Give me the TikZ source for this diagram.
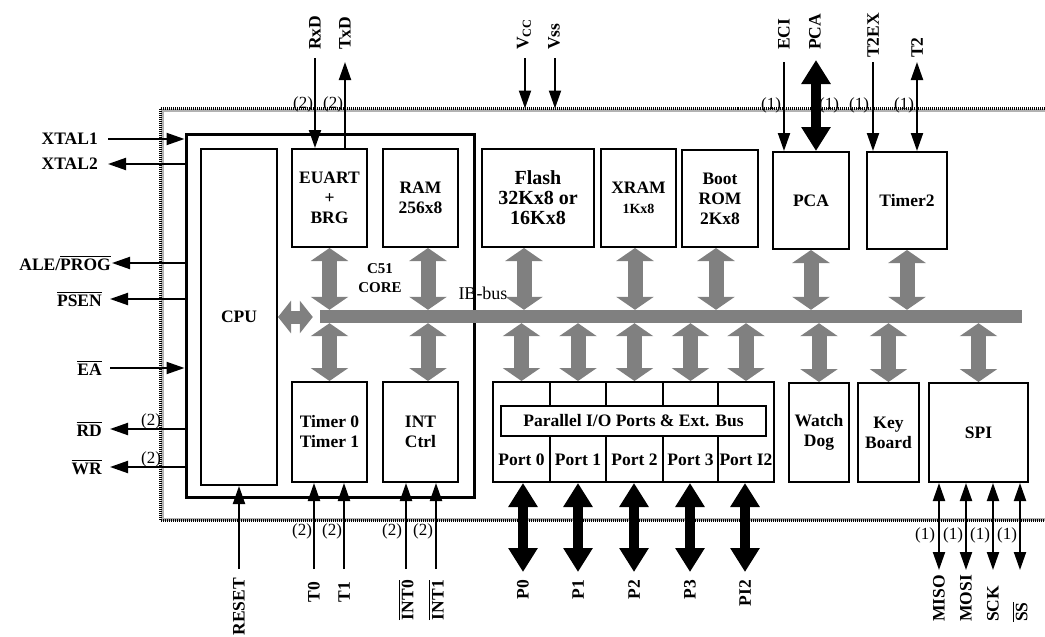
\documentclass[tikz,border=0pt]{standalone}
\usepackage{amsmath}
\usepackage{fontspec}
\setmainfont{Liberation Serif}
\usetikzlibrary{arrows.meta}

\begin{document}
\begin{tikzpicture}[
    x=1pt, y=-1pt,
    box/.style={draw, line width=2pt, inner sep=0pt, align=center, font=\fontsize{17.5}{20}\selectfont\bfseries},
    sigin/.style={-{Triangle[length=18pt, width=12pt]}, line width=2pt},
    sigio/.style={{Triangle[length=18pt, width=12pt]}-{Triangle[length=18pt, width=12pt]}, line width=2pt},
    portio/.style={{Triangle[length=24pt, width=28pt]}-{Triangle[length=24pt, width=28pt]}, line width=10pt},
    busio/.style={{Triangle[length=13pt, width=37pt]}-{Triangle[length=13pt, width=37pt]}, line width=15pt, draw=gray},
    pinlbl/.style={inner sep=0pt, font=\fontsize{17.5}{20}\selectfont\bfseries},
    note/.style={inner sep=0pt, font=\fontsize{17}{18}\selectfont}
]
\path[use as bounding box, clip] (0,0) rectangle (1045,637);

% Chip boundary
\node[draw=gray!60, line width=3pt, minimum width=918pt, minimum height=409pt] (chip) at (621,314.5) {};
\draw[line width=3pt, dash pattern=on 1pt off 1pt] (chip.north west) rectangle (chip.south east);

% C51 core
\node[box, line width=3pt, minimum width=288pt, minimum height=363pt] (core) at (330,315.5) {};
\node[box, minimum width=76pt, minimum height=336pt] (cpu) at (239,317) {CPU};
\node[box, minimum width=75pt, minimum height=98pt] (euart) at (329.5,198) {EUART\\+\\BRG};
\node[box, minimum width=75pt, minimum height=98pt] (ram) at (420.5,198) {RAM\\256x8};
\node[box, minimum width=75pt, minimum height=100pt] (timer01) at (329.5,432) {Timer 0\\Timer 1};
\node[box, minimum width=75pt, minimum height=100pt] (intc) at (420.5,432) {INT\\Ctrl};
\node[pinlbl, font=\fontsize{15}{19}\selectfont\bfseries, align=center] (corelbl) at (380,278) {C51\\CORE};

% Memories
\node[box, minimum width=112pt, minimum height=98pt, font=\fontsize{20}{20}\selectfont\bfseries] (flash) at (538,198) {Flash\\32Kx8 or\\16Kx8};
\node[box, minimum width=75pt, minimum height=98pt] (xram) at (638.5,198) {XRAM\\{\fontsize{14}{16}\selectfont 1Kx8}};
\node[box, minimum width=76pt, minimum height=97pt] (boot) at (720,198.5) {Boot\\ROM\\2Kx8};

% Peripherals
\node[box, minimum width=76pt, minimum height=97pt] (pca) at (811,200.5) {PCA};
\node[box, minimum width=80pt, minimum height=97pt] (timer2) at (907,200.5) {Timer2};
\node[box, minimum width=60pt, minimum height=99pt] (wdog) at (819,432.5) {Watch\\Dog};
\node[box, minimum width=61pt, minimum height=99pt] (kbd) at (888.5,432.5) {Key\\Board};
\node[box, minimum width=99pt, minimum height=99pt] (spi) at (978.5,432.5) {SPI};

% Parallel ports
\node[box, minimum width=57pt, minimum height=100pt] (port0) at (521.5,432) {};
\node[box, minimum width=56pt, minimum height=100pt] (port1) at (578,432) {};
\node[box, minimum width=57pt, minimum height=100pt] (port2) at (634.5,432) {};
\node[box, minimum width=55pt, minimum height=100pt] (port3) at (690.5,432) {};
\node[box, minimum width=56pt, minimum height=100pt] (portI2) at (746,432) {};
\node[pinlbl] (port0lbl) at (521.5,460) {Port 0};
\node[pinlbl] (port1lbl) at (578,460) {Port 1};
\node[pinlbl] (port2lbl) at (634.5,460) {Port 2};
\node[pinlbl] (port3lbl) at (690.5,460) {Port 3};
\node[pinlbl] (portI2lbl) at (746,460) {Port I2};
\node[box, fill=white, minimum width=265pt, minimum height=30pt] (pio) at (633.5,421) {Parallel I/O Ports \& Ext. Bus};

% IB-bus
\node[fill=gray, inner sep=0pt, minimum width=702pt, minimum height=13pt] (bus) at (671,316.5) {};
\node[note, font=\fontsize{18}{18}\selectfont] (buslbl) at (483,293) {IB-bus};

\draw[busio] (euart.south) -- (euart.south |- bus.north);
\draw[busio] ([xshift=7.5pt]ram.south) -- ([xshift=7.5pt]ram.south |- bus.north);
\draw[busio] ([xshift=-14pt]flash.south) -- ([xshift=-14pt]flash.south |- bus.north);
\draw[busio] ([xshift=-3.5pt]xram.south) -- ([xshift=-3.5pt]xram.south |- bus.north);
\draw[busio] ([xshift=-4pt]boot.south) -- ([xshift=-4pt]boot.south |- bus.north);
\draw[busio] (pca.south) -- (pca.south |- bus.north);
\draw[busio] (timer2.south) -- (timer2.south |- bus.north);
\draw[busio] (timer01.north |- bus.south) -- (timer01.north);
\draw[busio] ([xshift=7.5pt]intc.north |- bus.south) -- ([xshift=7.5pt]intc.north);
\draw[busio] (port0.north |- bus.south) -- (port0.north);
\draw[busio] (port1.north |- bus.south) -- (port1.north);
\draw[busio] (port2.north |- bus.south) -- (port2.north);
\draw[busio] (port3.north |- bus.south) -- (port3.north);
\draw[busio] (portI2.north |- bus.south) -- (portI2.north);
\draw[busio] (wdog.north |- bus.south) -- (wdog.north);
\draw[busio] (kbd.north |- bus.south) -- (kbd.north);
\draw[busio] (spi.north |- bus.south) -- (spi.north);
\draw[busio, line width=13pt, {Triangle[length=13pt, width=32pt]}-{Triangle[length=13pt, width=32pt]}] (cpu.east) -- ([xshift=-7pt]bus.west |- cpu.east);

% Left pins
\coordinate (xtal1) at (108,139);
\coordinate (xtal2) at (108,164);
\coordinate (ale) at (112,263);
\coordinate (psen) at (110,299);
\coordinate (ea) at (110,368);
\coordinate (rd) at (110,429);
\coordinate (wr) at (110,467);
\node[pinlbl, anchor=east] (xtal1lbl) at (98,139) {XTAL1};
\node[pinlbl, anchor=east] (xtal2lbl) at (98,164) {XTAL2};
\node[pinlbl, anchor=east] (alelbl) at (111,263) {ALE/$\overline{\text{PROG}}$};
\node[pinlbl, anchor=east] (psenlbl) at (102,299) {$\overline{\text{PSEN}}$};
\node[pinlbl, anchor=east] (ealbl) at (102,368) {$\overline{\text{EA}}$};
\node[pinlbl, anchor=east] (rdlbl) at (102,429) {$\overline{\text{RD}}$};
\node[pinlbl, anchor=east] (wrlbl) at (102,467) {$\overline{\text{WR}}$};
\draw[sigin] (xtal1) -- (xtal1 -| core.west);
\draw[sigin] (xtal2 -| core.west) -- (xtal2);
\draw[sigin] (ale -| core.west) -- (ale);
\draw[sigin] (psen -| core.west) -- (psen);
\draw[sigin] (ea) -- (ea -| core.west);
\draw[sigin] (rd -| core.west) -- (rd);
\draw[sigin] (wr -| core.west) -- (wr);
\node[note] (rdnum) at (151,421) {(2)};
\node[note] (wrnum) at (151,459) {(2)};

% Top pins
\coordinate (rxd) at (315,58);
\coordinate (txd) at (345,62);
\coordinate (vcc) at (525,58);
\coordinate (vss) at (555,58);
\coordinate (eci) at (784,62);
\coordinate (pcaio) at (816,60);
\coordinate (t2ex) at (873,62);
\coordinate (t2) at (917,62);
\node[pinlbl, rotate=90, anchor=west] (rxdlbl) at (315,50) {RxD};
\node[pinlbl, rotate=90, anchor=west] (txdlbl) at (345,50) {TxD};
\node[pinlbl, rotate=90, anchor=west] (vcclbl) at (524,50) {V$_{\text{CC}}$};
\node[pinlbl, rotate=90, anchor=west] (vsslbl) at (554,50) {Vss};
\node[pinlbl, rotate=90, anchor=west] (ecilbl) at (784,50) {ECI};
\node[pinlbl, rotate=90, anchor=west] (pcalbl) at (815,50) {PCA};
\node[pinlbl, rotate=90, anchor=west] (t2exlbl) at (873,58) {T2EX};
\node[pinlbl, rotate=90, anchor=west] (t2lbl) at (917,58) {T2};
\draw[sigin] (rxd) -- (rxd |- euart.north);
\draw[sigin] (txd |- euart.north) -- (txd);
\draw[sigin] (vcc) -- (vcc |- chip.north);
\draw[sigin] (vss) -- (vss |- chip.north);
\draw[sigin] (eci) -- (eci |- pca.north);
\draw[portio] (pcaio) -- (pcaio |- pca.north);
\draw[sigin] (t2ex) -- (t2ex |- timer2.north);
\draw[sigio] (t2) -- (t2 |- timer2.north);
\node[note] (rxdnum) at (303,104) {(2)};
\node[note] (txdnum) at (333,104) {(2)};
\node[note] (ecinum) at (771,105) {(1)};
\node[note] (pcanum) at (829,105) {(1)};
\node[note] (t2exnum) at (859,105) {(1)};
\node[note] (t2num) at (904,105) {(1)};

% Bottom pins
\coordinate (reset) at (239,569);
\coordinate (t0) at (314,569);
\coordinate (t1) at (344,569);
\coordinate (int0) at (406,569);
\coordinate (int1) at (436,569);
\node[pinlbl, rotate=90, anchor=east] (resetlbl) at (239,578) {RESET};
\node[pinlbl, rotate=90, anchor=east] (t0lbl) at (314,582) {T0};
\node[pinlbl, rotate=90, anchor=east] (t1lbl) at (344,582) {T1};
\node[pinlbl, rotate=90, anchor=east] (int0lbl) at (406,580) {$\overline{\text{INT0}}$};
\node[pinlbl, rotate=90, anchor=east] (int1lbl) at (436,580) {$\overline{\text{INT1}}$};
\draw[sigin] (reset) -- (reset |- cpu.south);
\draw[sigin] (t0) -- (t0 |- timer01.south);
\draw[sigin] (t1) -- (t1 |- timer01.south);
\draw[sigin] (int0) -- (int0 |- intc.south);
\draw[sigin] (int1) -- (int1 |- intc.south);
\node[note] (t0num) at (302,531) {(2)};
\node[note] (t1num) at (332,531) {(2)};
\node[note] (int0num) at (392,531) {(2)};
\node[note] (int1num) at (423,531) {(2)};

% Port pins
\coordinate (p0) at (523,572);
\coordinate (p1) at (578,572);
\coordinate (p2) at (634,572);
\coordinate (p3) at (690,572);
\coordinate (pi2) at (745,572);
\node[pinlbl, rotate=90, anchor=east] (p0lbl) at (523,580) {P0};
\node[pinlbl, rotate=90, anchor=east] (p1lbl) at (578,580) {P1};
\node[pinlbl, rotate=90, anchor=east] (p2lbl) at (634,580) {P2};
\node[pinlbl, rotate=90, anchor=east] (p3lbl) at (690,580) {P3};
\node[pinlbl, rotate=90, anchor=east] (pi2lbl) at (745,580) {PI2};
\draw[portio] (p0 |- port0.south) -- (p0);
\draw[portio] (p1 |- port1.south) -- (p1);
\draw[portio] (p2 |- port2.south) -- (p2);
\draw[portio] (p3 |- port3.south) -- (p3);
\draw[portio] (pi2 |- portI2.south) -- (pi2);

% SPI pins
\coordinate (miso) at (939,570);
\coordinate (mosi) at (966,570);
\coordinate (sck) at (993,570);
\coordinate (ss) at (1020,570);
\node[pinlbl, rotate=90, anchor=west] (misolbl) at (939,622) {MISO};
\node[pinlbl, rotate=90, anchor=west] (mosilbl) at (966,622) {MOSI};
\node[pinlbl, rotate=90, anchor=west] (scklbl) at (993,622) {SCK};
\node[pinlbl, rotate=90, anchor=west] (sslbl) at (1020,622) {$\overline{\text{SS}}$};
\draw[sigio] (miso |- spi.south) -- (miso);
\draw[sigio] (mosi |- spi.south) -- (mosi);
\draw[sigio] (sck |- spi.south) -- (sck);
\draw[sigio] (ss |- spi.south) -- (ss);
\node[note] (misonum) at (925,535) {(1)};
\node[note] (mosinum) at (953,535) {(1)};
\node[note] (scknum) at (980,535) {(1)};
\node[note] (ssnum) at (1007,535) {(1)};

\end{tikzpicture}
\end{document}
